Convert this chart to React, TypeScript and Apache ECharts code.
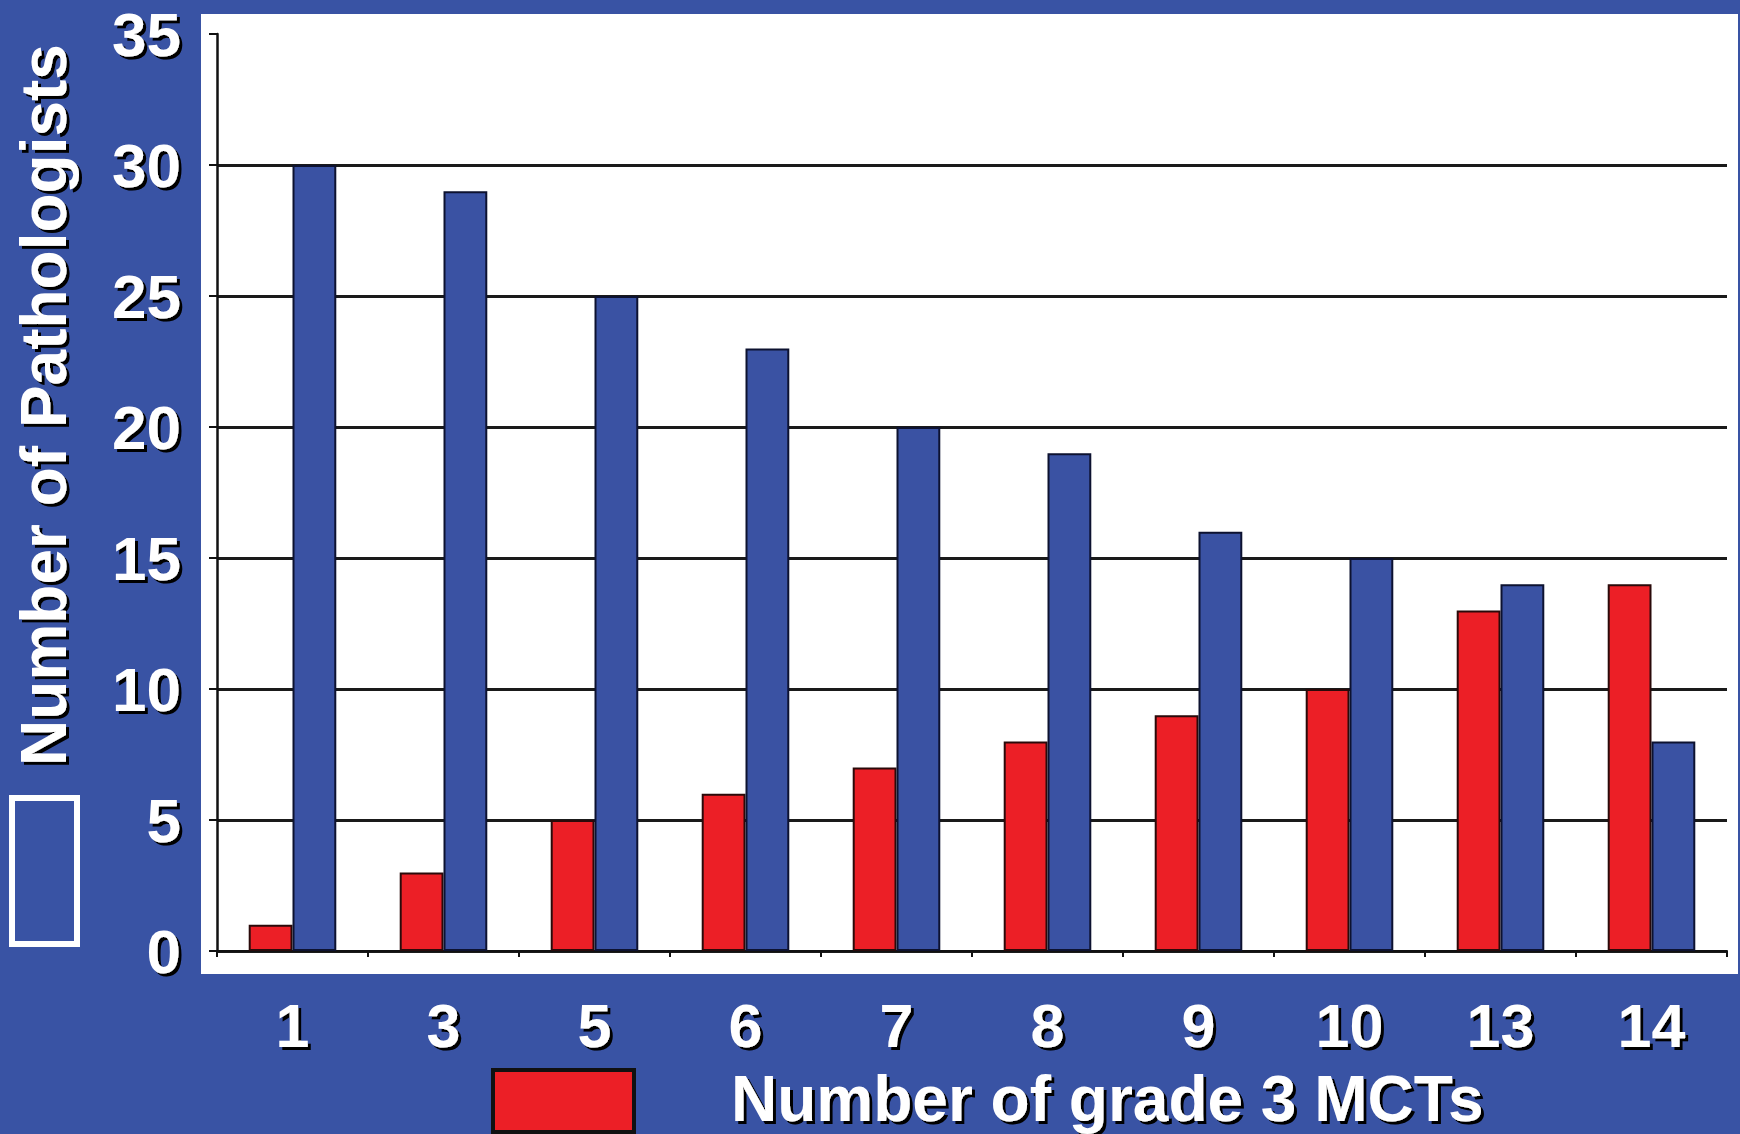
import React, { useEffect, useRef } from "react";
import * as echarts from "echarts";

// Number of grade 3 mast cell tumours (category axis)
const categories = ["1", "3", "5", "6", "7", "8", "9", "10", "13", "14"];
// Red bars: number of grade 3 MCTs
const grade3Counts = [1, 3, 5, 6, 7, 8, 9, 10, 13, 14];
// Blue bars: number of pathologists
const pathologistCounts = [30, 29, 25, 23, 20, 19, 16, 15, 14, 8];

const Y_MIN = 0;
const Y_MAX = 35;
const Y_STEP = 5;

const GRADE3_NAME = "Number of grade 3 MCTs";
const PATHOLOGIST_NAME = "Number of Pathologists";

const BG_BLUE = "#3953a4";
const BAR_BLUE = "#3a52a3";
const BAR_RED = "#ec1f26";
const FONT = '"Liberation Sans", Arial, sans-serif';

const shadow = {
  textShadowColor: "#000",
  textShadowOffsetX: 3,
  textShadowOffsetY: 3,
  textShadowBlur: 1,
};

export default function App() {
  const ref = useRef<HTMLDivElement>(null);

  useEffect(() => {
    document.body.style.margin = "0";
    const chart = echarts.init(ref.current!, null, { renderer: "svg" });
    chart.setOption({
      animation: false,
      backgroundColor: BG_BLUE,
      grid: { left: 217, right: 13, top: 34, bottom: 183, containLabel: false },
      graphic: [
        {
          type: "rect",
          z: -1,
          shape: { x: 201, y: 14, width: 1537, height: 960 },
          style: { fill: "#ffffff" },
          silent: true,
        },
        {
          type: "text",
          x: 44,
          y: 405,
          rotation: Math.PI / 2,
          style: {
            text: PATHOLOGIST_NAME,
            fill: "#ffffff",
            font: `bold 64px ${FONT}`,
            align: "center",
            verticalAlign: "middle",
            textShadowColor: "#000",
            textShadowOffsetX: -3,
            textShadowOffsetY: 3,
            textShadowBlur: 1,
          },
        },
        {
          type: "text",
          x: 731,
          y: 1099,
          style: {
            text: GRADE3_NAME,
            fill: "#ffffff",
            font: `bold 64px ${FONT}`,
            align: "left",
            verticalAlign: "middle",
            ...shadow,
          },
        },
      ],
      legend: [
        {
          data: [PATHOLOGIST_NAME],
          left: 9,
          top: 795,
          padding: 0,
          icon: "rect",
          itemWidth: 65,
          itemHeight: 146,
          selectedMode: false,
          formatter: () => "",
          itemStyle: { color: BG_BLUE, borderColor: "#ffffff", borderWidth: 6 },
        },
        {
          data: [GRADE3_NAME],
          left: 491,
          top: 1068,
          padding: 0,
          icon: "rect",
          itemWidth: 141,
          itemHeight: 62,
          selectedMode: false,
          formatter: () => "",
          itemStyle: { color: BAR_RED, borderColor: "#111111", borderWidth: 4 },
        },
      ],
      xAxis: {
        type: "category",
        data: categories,
        axisLine: { show: true, lineStyle: { color: "#111", width: 2 } },
        axisTick: { show: true, length: 6, lineStyle: { color: "#111", width: 2 } },
        axisLabel: {
          color: "#ffffff",
          fontFamily: FONT,
          fontWeight: "bold",
          fontSize: 61,
          margin: 44,
          ...shadow,
        },
        splitLine: { show: false },
      },
      yAxis: {
        type: "value",
        min: Y_MIN,
        max: Y_MAX,
        interval: Y_STEP,
        axisLine: { show: true, lineStyle: { color: "#111", width: 2.5 } },
        axisTick: { show: true, length: 8, lineStyle: { color: "#111", width: 2 } },
        axisLabel: {
          color: "#ffffff",
          fontFamily: FONT,
          fontWeight: "bold",
          fontSize: 62,
          margin: 36,
          ...shadow,
        },
        splitLine: {
          show: true,
          showMaxLine: false,
          lineStyle: { color: "#1a1a1a", width: 3 },
        },
      },
      series: [
        {
          name: GRADE3_NAME,
          type: "bar",
          data: grade3Counts,
          barGap: "0%",
          barCategoryGap: "42%",
          itemStyle: { color: BAR_RED, borderColor: "#2a0a0a", borderWidth: 2 },
        },
        {
          name: PATHOLOGIST_NAME,
          type: "bar",
          data: pathologistCounts,
          barGap: "0%",
          barCategoryGap: "42%",
          itemStyle: { color: BAR_BLUE, borderColor: "#0d1230", borderWidth: 2 },
        },
      ],
    });
    return () => chart.dispose();
  }, []);

  return <div ref={ref} style={{ width: 1740, height: 1134 }} />;
}
